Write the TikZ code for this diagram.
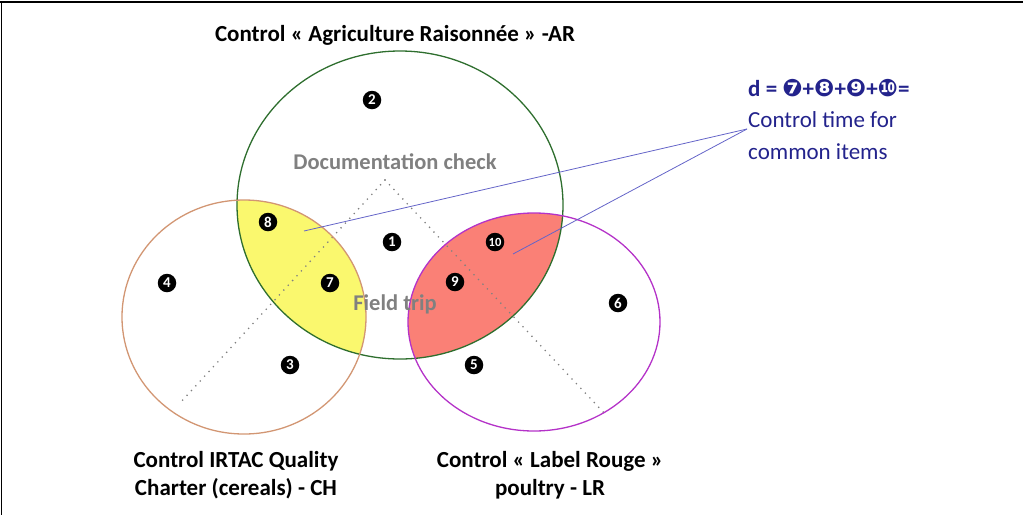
\documentclass[tikz,border=0pt]{standalone}
\usepackage{fontspec}
\setmainfont{Carlito}
\newfontfamily\dv{DejaVu Sans}
\definecolor{agreen}{RGB}{46,110,46}
\definecolor{chorange}{RGB}{210,150,115}
\definecolor{lrmag}{RGB}{180,50,200}
\definecolor{lensyellow}{RGB}{250,248,110}
\definecolor{lensred}{RGB}{250,128,118}
\definecolor{navy}{RGB}{35,35,140}
\definecolor{linkblue}{RGB}{100,100,200}
\definecolor{lblgray}{RGB}{128,128,128}
\newcommand{\dingnum}[1]{{\dv\fontsize{24}{24}\selectfont #1}}
\tikzset{
  marker/.style={circle, fill=black, text=white, inner sep=0pt, minimum size=18.5pt, font=\bfseries\fontsize{15}{15}\selectfont},
  title/.style={font=\bfseries\fontsize{23}{28}\selectfont, align=center, text=black},
  zone/.style={font=\bfseries\fontsize{22.5}{26}\selectfont, text=lblgray},
  dotline/.style={lblgray, line width=1.8pt, line cap=round, dash pattern=on 0pt off 6.5pt},
  link/.style={linkblue, line width=0.8pt},
}
\begin{document}
\begin{tikzpicture}[x=1pt,y=-1pt]
\useasboundingbox (0,0) rectangle (1023,515);
% frame
\draw[line width=2pt] (0,2) -- (1023,2);
\draw[line width=1pt] (1.5,2) -- (1.5,515);
% lens fills
\begin{scope}
  \clip (400,205) ellipse [x radius=163pt, y radius=154pt];
  \fill[lensyellow] (244,317) ellipse [x radius=122pt, y radius=117pt];
  \fill[lensred] (534,322) ellipse [x radius=126pt, y radius=109pt];
\end{scope}
% dotted dividers
\coordinate (apex) at (385,180);
\coordinate (dl) at (180,403);
\coordinate (dr) at (605,414);
\draw[dotline] (apex) -- (dl);
\draw[dotline] (apex) -- (dr);
% outlines
\draw[agreen, line width=1.3pt] (400,205) ellipse [x radius=163pt, y radius=154pt];
\draw[chorange, line width=1.3pt] (244,317) ellipse [x radius=122pt, y radius=117pt];
\draw[lrmag, line width=1.3pt] (534,322) ellipse [x radius=126pt, y radius=109pt];
% labels
\node[title] (tAR) at (395,35) {Control « Agriculture Raisonnée » -AR};
\node[title] (tCH) at (236,475) {Control IRTAC Quality\\Charter (cereals) - CH};
\node[title] (tLR) at (550,475) {Control « Label Rouge »\\poultry - LR};
\node[zone] (doc) at (395,162) {Documentation check};
\node[zone] (field) at (395,304) {Field trip};
% markers
\node[marker] (m1) at (392,242) {1};
\node[marker] (m2) at (372,100) {2};
\node[marker] (m3) at (290,365) {3};
\node[marker] (m4) at (167,283) {4};
\node[marker] (m5) at (474,365) {5};
\node[marker] (m6) at (618,303) {6};
\node[marker] (m7) at (330,283) {7};
\node[marker] (m8) at (268,222) {8};
\node[marker] (m9) at (455,282) {9};
\node[marker] (m10) at (495,242) {\fontsize{12.5}{12.5}\selectfont 10};
% note
\node[anchor=west, text=navy, font=\bfseries\fontsize{23}{28}\selectfont, inner sep=0pt] (deq) at (748,88)
  {d = \dingnum{❼}+\dingnum{❽}+\dingnum{❾}+\dingnum{❿}=};
\node[anchor=west, text=navy, font=\fontsize{23}{28}\selectfont, inner sep=0pt] (note1) at (748,120) {Control time for};
\node[anchor=west, text=navy, font=\fontsize{23}{28}\selectfont, inner sep=0pt] (note2) at (748,152) {common items};
\coordinate (conv) at (747,129);
\coordinate (endY) at (304,231);
\coordinate (endR) at (513,254);
\draw[link] (conv) -- (endY);
\draw[link] (conv) -- (endR);
\end{tikzpicture}
\end{document}
